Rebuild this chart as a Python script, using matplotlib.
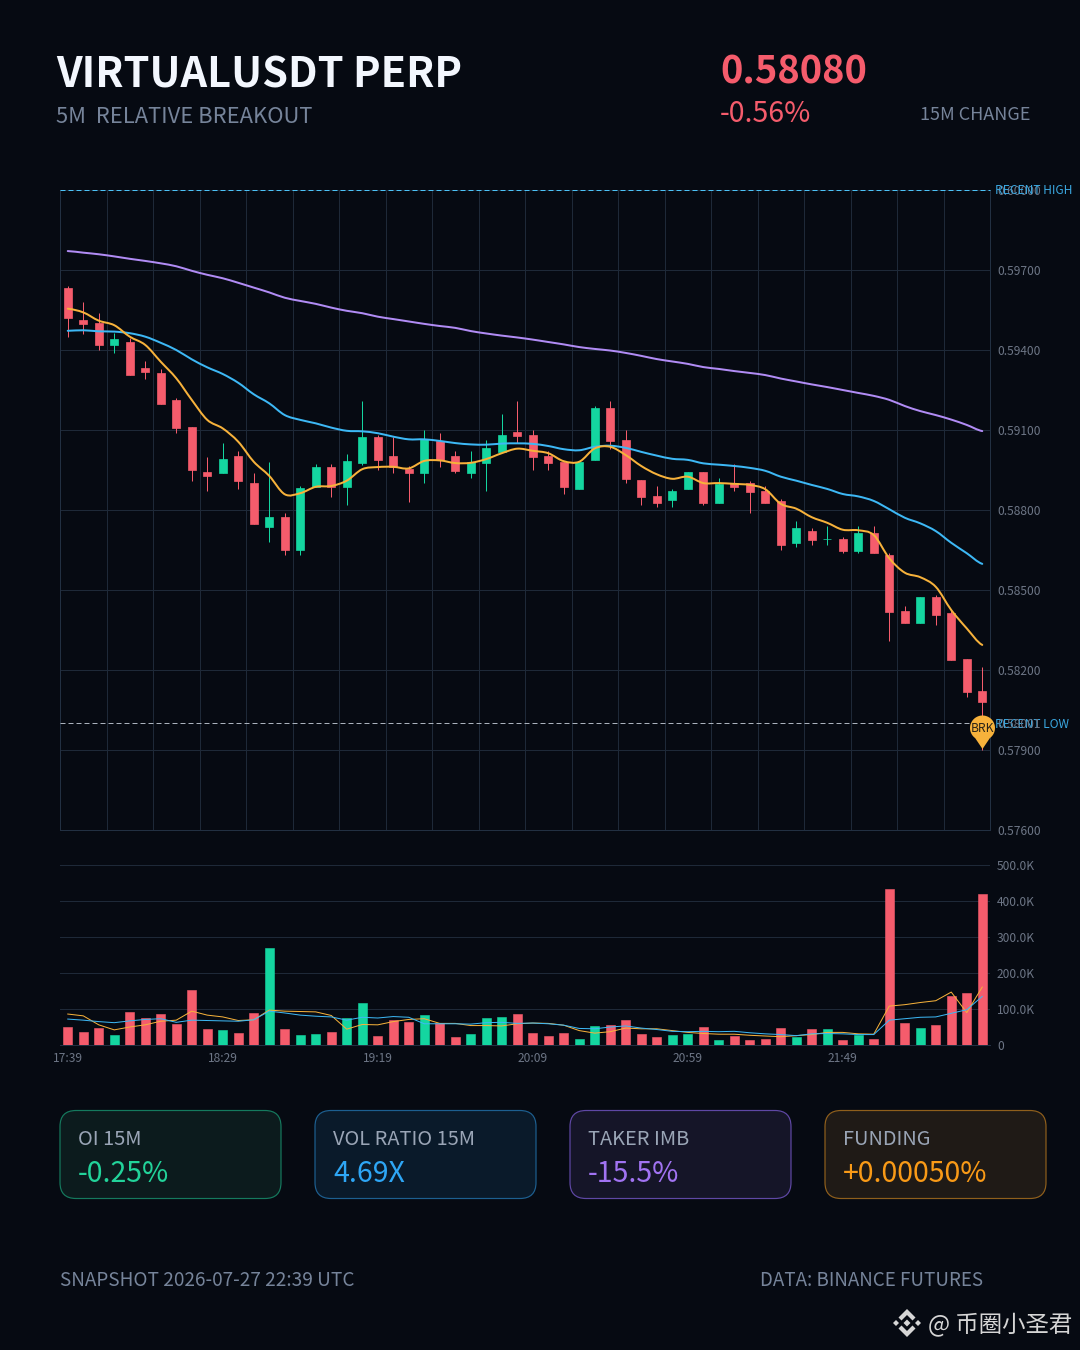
import numpy as np
import matplotlib
matplotlib.use('Agg')
import matplotlib.pyplot as plt
from matplotlib.patches import FancyBboxPatch, Polygon
from matplotlib.path import Path
from matplotlib.patches import PathPatch
from matplotlib.ticker import FixedLocator, FuncFormatter, NullFormatter
from matplotlib.transforms import blended_transform_factory

plt.rcParams['font.family'] = ['Noto Sans CJK SC', 'DejaVu Sans']

# candles, 5 minute bars
opens = [.59631, .59513, .59501, .59419, .59431, .59333, .59313, .59211, .59112, .58943,
         .58938, .59003, .58902, .58737, .58773, .58649, .58887, .58962, .58887, .58977,
         .59073, .59003, .58953, .58938, .5906, .59003, .58938, .58977, .59019, .59093,
         .59081, .59003, .58981, .58878, .58988, .59183, .59063, .58913, .58853, .58838,
         .58878, .58943, .58827, .589, .58901, .58872, .58833, .58677, .58722, .5869,
         .58692, .58647, .58713, .58632, .58422, .58377, .58473, .58413, .58242, .58122]
closes = [.59519, .59499, .59419, .59441, .59307, .59318, .59199, .59109, .58949, .58928,
          .58991, .58909, .58749, .58773, .58649, .58883, .58962, .58887, .58983, .59073,
          .58988, .5896, .58938, .59065, .58988, .58947, .58981, .59031, .59081, .59079,
          .58998, .58977, .58887, .58981, .59183, .59059, .58917, .58848, .58827, .58872,
          .58943, .58827, .58898, .58887, .58868, .58827, .58669, .58733, .58688, .58692,
          .58647, .58713, .58638, .58419, .58377, .58473, .58407, .58238, .58118, .5808]
highs = [.5964, .5958, .5954, .59464, .59445, .5936, .59329, .59219, .59112, .59,
         .5905, .5902, .5894, .5898, .5879, .5889, .58971, .58971, .5901, .5921,
         .59081, .59073, .58965, .591, .5909, .59021, .59021, .59061, .5916, .5921,
         .591, .59021, .58981, .58981, .5919, .5921, .591, .58913, .5889, .5888,
         .58943, .58943, .5892, .58971, .5891, .5889, .5884, .5876, .58731, .5874,
         .587, .5874, .5874, .5864, .5844, .58473, .5848, .58428, .58242, .5821]
lows = [.5945, .59461, .59401, .5939, .59307, .59291, .59199, .5909, .5891, .58871,
        .58938, .5888, .58749, .58681, .58631, .58631, .58887, .5885, .5882, .5897,
        .5895, .5894, .58831, .589, .5896, .5894, .58921, .58871, .59019, .5905,
        .5895, .5895, .5886, .58878, .58988, .59029, .589, .58819, .5881, .5881,
        .58878, .5882, .58827, .5887, .5879, .58827, .5865, .5866, .5867, .5867,
        .5864, .5864, .58638, .5831, .58377, .58377, .5837, .58238, .581, .579]

ma_fast = [.59555, .59541, .5951, .59493, .5945, .59419, .59356, .59294, .59213, .59138,
           .59106, .59056, .58981, .58928, .58859, .58863, .58887, .5889, .5891, .58953,
           .58961, .58962, .58956, .58984, .58986, .58976, .58977, .58991, .59013, .5903,
           .59022, .59013, .58983, .58981, .59031, .59037, .59006, .58965, .58934, .58917,
           .58925, .58901, .58901, .58898, .58894, .58878, .58823, .58805, .58773, .58752,
           .58726, .58724, .58706, .58619, .58565, .58548, .58512, .58425, .58356, .58294]
ma_mid = [.59472, .59474, .5947, .59469, .59463, .5945, .59427, .594, .59365, .59335,
          .5931, .59277, .59234, .592, .59156, .59138, .59125, .59109, .59097, .59095,
          .59088, .59075, .59065, .59065, .59059, .59051, .59046, .59045, .59049, .5905,
          .59048, .5904, .59028, .59024, .59037, .59041, .59033, .59018, .59004, .58992,
          .58988, .58975, .5897, .58965, .58958, .58947, .58925, .5891, .58894, .58879,
          .5886, .58851, .58834, .58803, .58771, .5875, .58721, .58677, .58638, .58598]
ma_slow = [.59771, .59765, .59759, .59751, .59742, .59734, .59725, .59714, .59697, .59682,
           .59669, .59652, .59634, .59616, .59596, .59584, .59573, .59559, .59547, .59538,
           .59525, .59516, .59507, .59498, .5949, .59483, .59471, .59462, .59454, .59447,
           .59439, .5943, .59421, .59411, .59404, .59398, .59389, .59378, .59366, .59357,
           .59348, .59336, .59329, .59321, .59314, .59306, .59293, .59282, .59271, .59261,
           .5925, .59239, .59228, .59213, .5919, .59171, .59156, .59139, .59119, .59096]

# volume in thousands
volume = [49, 35, 46, 28, 93, 75, 87, 59, 154, 44, 41, 33, 88, 269, 44, 29, 31, 36, 75, 116,
          26, 69, 65, 84, 60, 22, 31, 75, 78, 87, 34, 26, 32, 17, 54, 56, 69, 31, 21, 28,
          31, 50, 15, 26, 15, 17, 47, 21, 44, 45, 15, 28, 17, 432, 62, 48, 55, 135, 144, 420]
vol_ma_a = [86, 81, 56, 42, 50, 56, 66, 69, 94, 83, 78, 68, 70, 97, 94, 93, 92, 82, 44, 57,
            56, 65, 71, 73, 60, 60, 54, 54, 53, 59, 61, 60, 55, 40, 33, 37, 47, 45, 45, 40,
            35, 32, 30, 30, 27, 25, 23, 26, 29, 35, 35, 31, 30, 108, 112, 118, 123, 147, 90, 161]
vol_ma_b = [72, 69, 65, 62, 67, 71, 73, 63, 69, 68, 67, 66, 70, 94, 89, 83, 80, 78, 69, 77,
            75, 79, 77, 59, 59, 59, 58, 62, 63, 60, 61, 59, 55, 46, 45, 50, 53, 47, 43, 38,
            37, 38, 37, 38, 34, 31, 29, 26, 31, 32, 31, 29, 29, 69, 73, 77, 78, 88, 98, 135]

price_ticks = [.576, .579, .582, .585, .588, .591, .594, .597, .600]
vol_ticks = [0, 100, 200, 300, 400, 500]
time_labels = ['17:39', '18:29', '19:19', '20:09', '20:59', '21:49']
recent_high = .600
recent_low = .58001
last_price = '0.58080'

cards = [('OI 15M', '-0.25%', '#22d39a', '#0c1b1d', '#157a5e'),
         ('VOL RATIO 15M', '4.69X', '#2ea6f5', '#0a1a2a', '#1d5f90'),
         ('TAKER IMB', '-15.5%', '#a173f2', '#151528', '#5f48a5'),
         ('FUNDING', '+0.00050%', '#f99a17', '#1f1a16', '#8f5f1c')]

BG = '#060a12'
RED = '#f55c6c'
GREEN = '#14d6a0'
ORANGE = '#f7b23b'
BLUE = '#3db8f5'
PURPLE = '#b18cf5'
GRID = '#1e2938'
TICK = '#6d7686'
MUTED = '#76849a'


def px(v):
    # pixel size to points, figure is saved at dpi 100
    return v * 0.72


def smooth_path(xs, ys):
    # catmull-rom through the values, same look as a smoothed line
    verts = [(xs[0], ys[0])]
    codes = [Path.MOVETO]
    n = len(xs)
    for i in range(n - 1):
        p0 = ys[max(i - 1, 0)]
        p1 = ys[i]
        p2 = ys[i + 1]
        p3 = ys[min(i + 2, n - 1)]
        verts.append((xs[i] + 1 / 3, p1 + (p2 - p0) / 6))
        verts.append((xs[i + 1] - 1 / 3, p2 - (p3 - p1) / 6))
        verts.append((xs[i + 1], p2))
        codes += [Path.CURVE4] * 3
    return Path(verts, codes)


fig = plt.figure(figsize=(10.8, 13.5), dpi=100, facecolor=BG)

page = fig.add_axes([0, 0, 1, 1], zorder=0)
page.set_xlim(0, 1080)
page.set_ylim(1350, 0)
page.axis('off')

ax = fig.add_axes([60 / 1080, 1 - 830 / 1350, 930 / 1080, 640 / 1350], zorder=2, facecolor='none')
vol_ax = fig.add_axes([60 / 1080, 1 - 1045 / 1350, 930 / 1080, 180 / 1350], zorder=2, facecolor='none')

x = np.arange(len(opens))
colors = [GREEN if c >= o else RED for o, c in zip(opens, closes)]

# price panel
ax.vlines(x, lows, highs, colors=colors, linewidth=px(1), zorder=3)
body_low = np.minimum(opens, closes)
body_h = np.abs(np.array(closes) - np.array(opens))
ax.bar(x, body_h, bottom=body_low, width=0.52, color=colors, linewidth=0.5, edgecolor=colors, zorder=4)

for vals, col in [(ma_slow, PURPLE), (ma_mid, BLUE), (ma_fast, ORANGE)]:
    ax.add_patch(PathPatch(smooth_path(x, vals), facecolor='none', edgecolor=col,
                           linewidth=px(2), zorder=5, capstyle='round'))

ax.set_xlim(-0.5, 59.5)
ax.set_ylim(.576, .600)
ax.yaxis.tick_right()
ax.yaxis.set_major_locator(FixedLocator(price_ticks))
ax.yaxis.set_major_formatter(FuncFormatter(lambda v, _: f'{v:.5f}'))
ax.xaxis.set_major_locator(FixedLocator(np.arange(-0.5, 60, 3)))
ax.xaxis.set_major_formatter(NullFormatter())
ax.tick_params(axis='both', length=0, labelsize=px(12), labelcolor=TICK, pad=px(7))
ax.grid(True, color=GRID, linewidth=px(1))
ax.set_axisbelow(True)
for name, sp in ax.spines.items():
    sp.set_color('#223042')
    sp.set_linewidth(px(1))
ax.spines['top'].set_visible(False)

# recent high / low reference lines
ax.axhline(recent_high, color='#4cc3f7', linestyle=(0, (5, 3)), linewidth=px(1), zorder=3, clip_on=False)
ax.axhline(recent_low, color='#aab2bd', linestyle=(0, (5, 3)), linewidth=px(1), zorder=3)
trans = blended_transform_factory(ax.transAxes, ax.transData)
ax.annotate('RECENT HIGH', xy=(1, recent_high), xycoords=trans, xytext=(px(5), px(-1)), textcoords='offset points',
            va='center', ha='left', color='#3aa7e0', fontsize=px(12), zorder=6, annotation_clip=False)
ax.annotate('RECENT LOW', xy=(1, recent_low), xycoords=trans, xytext=(px(5), px(-1)), textcoords='offset points',
            va='center', ha='left', color='#3aa7e0', fontsize=px(12), zorder=6, annotation_clip=False)
ax.annotate(f'{recent_low:.5f}', xy=(1, recent_low), xycoords=trans, xytext=(px(7), px(-1)), textcoords='offset points',
            va='center', ha='left', color=TICK, fontsize=px(12), zorder=6, annotation_clip=False)

# breakout pin, origin of the marker is just under its tip
theta = np.linspace(-0.3 * np.pi, 1.3 * np.pi, 60)
pin_v = [(0, 1.5)] + [(12.5 * np.cos(t), 22.5 + 12.5 * np.sin(t)) for t in theta] + [(0, 1.5)]
pin = Path(pin_v, [Path.MOVETO] + [Path.LINETO] * (len(pin_v) - 2) + [Path.CLOSEPOLY])
ax.scatter([59], [lows[59]], marker=pin, s=px(2 * 35) ** 2, color=ORANGE, zorder=7, clip_on=False, linewidth=0)
ax.annotate('BRK', xy=(59, lows[59]), xytext=(0, px(21)), textcoords='offset points', ha='center', va='center',
            color='#2a2418', fontsize=px(12), zorder=8, annotation_clip=False)

# volume panel
vol_ax.bar(x, volume, width=0.56, color=colors, edgecolor=colors, linewidth=0.4, zorder=3)
vol_ax.plot(x, vol_ma_a, color=ORANGE, linewidth=px(1), zorder=4)
vol_ax.plot(x, vol_ma_b, color=BLUE, linewidth=px(1), zorder=4)
vol_ax.set_xlim(-0.5, 59.5)
vol_ax.set_ylim(0, 500)
vol_ax.yaxis.tick_right()
vol_ax.yaxis.set_major_locator(FixedLocator(vol_ticks))
vol_ax.yaxis.set_major_formatter(FuncFormatter(lambda v, _: '0' if v == 0 else f'{v:.1f}K'))
vol_ax.set_xticks(x[::10])
vol_ax.set_xticklabels(time_labels)
vol_ax.tick_params(axis='both', length=0, labelsize=px(12), labelcolor=TICK)
vol_ax.tick_params(axis='y', pad=px(7))
vol_ax.tick_params(axis='x', pad=px(7))
vol_ax.grid(True, axis='y', color=GRID, linewidth=px(1))
vol_ax.set_axisbelow(True)
for name in ['left', 'right', 'top']:
    vol_ax.spines[name].set_visible(False)
vol_ax.spines['bottom'].set_color('#223042')
vol_ax.spines['bottom'].set_linewidth(px(1))

# header
page.text(56, 87, 'VIRTUALUSDT PERP', color='#f3f7fe', fontsize=px(41.5), fontweight='bold', va='baseline')
page.text(56, 123, '5M  RELATIVE BREAKOUT', color=MUTED, fontsize=px(22), va='baseline')
page.text(720, 84, last_price, color=RED, fontsize=px(38), fontweight='bold', va='baseline')
page.text(720, 122, '-0.56%', color=RED, fontsize=px(28.5), va='baseline')
page.text(920, 120.5, '15M CHANGE', color=MUTED, fontsize=px(18), va='baseline')

# metric cards
for i, (label, value, col, fill, edge) in enumerate(cards):
    left = 60 + 255 * i
    page.add_patch(FancyBboxPatch((left + 16, 1110.5 + 16), 221 - 32, 88 - 32,
                                  boxstyle='round,pad=16', facecolor=fill, edgecolor=edge, linewidth=px(1.2)))
    page.text(left + 18, 1145, label, color='#9aa5b6', fontsize=px(20), va='baseline')
    page.text(left + 18, 1182, value, color=col, fontsize=px(28.5), va='baseline')

# footer
page.text(60, 1286, 'SNAPSHOT 2026-07-27 22:39 UTC', color=MUTED, fontsize=px(19), va='baseline')
page.text(760, 1286, 'DATA: BINANCE FUTURES', color=MUTED, fontsize=px(18.8), va='baseline')

# watermark
logo = '#d6d6d6'
cx, cy = 907, 1323
for pts in [[(0, -14), (8.5, -5.5), (5.5, -2.5), (0, -8), (-5.5, -2.5), (-8.5, -5.5)],
            [(0, 14), (8.5, 5.5), (5.5, 2.5), (0, 8), (-5.5, 2.5), (-8.5, 5.5)],
            [(-14, 0), (-11, -3), (-8, 0), (-11, 3)],
            [(14, 0), (11, -3), (8, 0), (11, 3)],
            [(0, -3.5), (3.5, 0), (0, 3.5), (-3.5, 0)]]:
    page.add_patch(Polygon([(cx + a, cy + b) for a, b in pts], closed=True, facecolor=logo, edgecolor='none'))
page.text(928, 1332, '@ 币圈小圣君', color=logo, fontsize=px(23.4), va='baseline')

fig.savefig('out.png', dpi=100, facecolor=BG)
